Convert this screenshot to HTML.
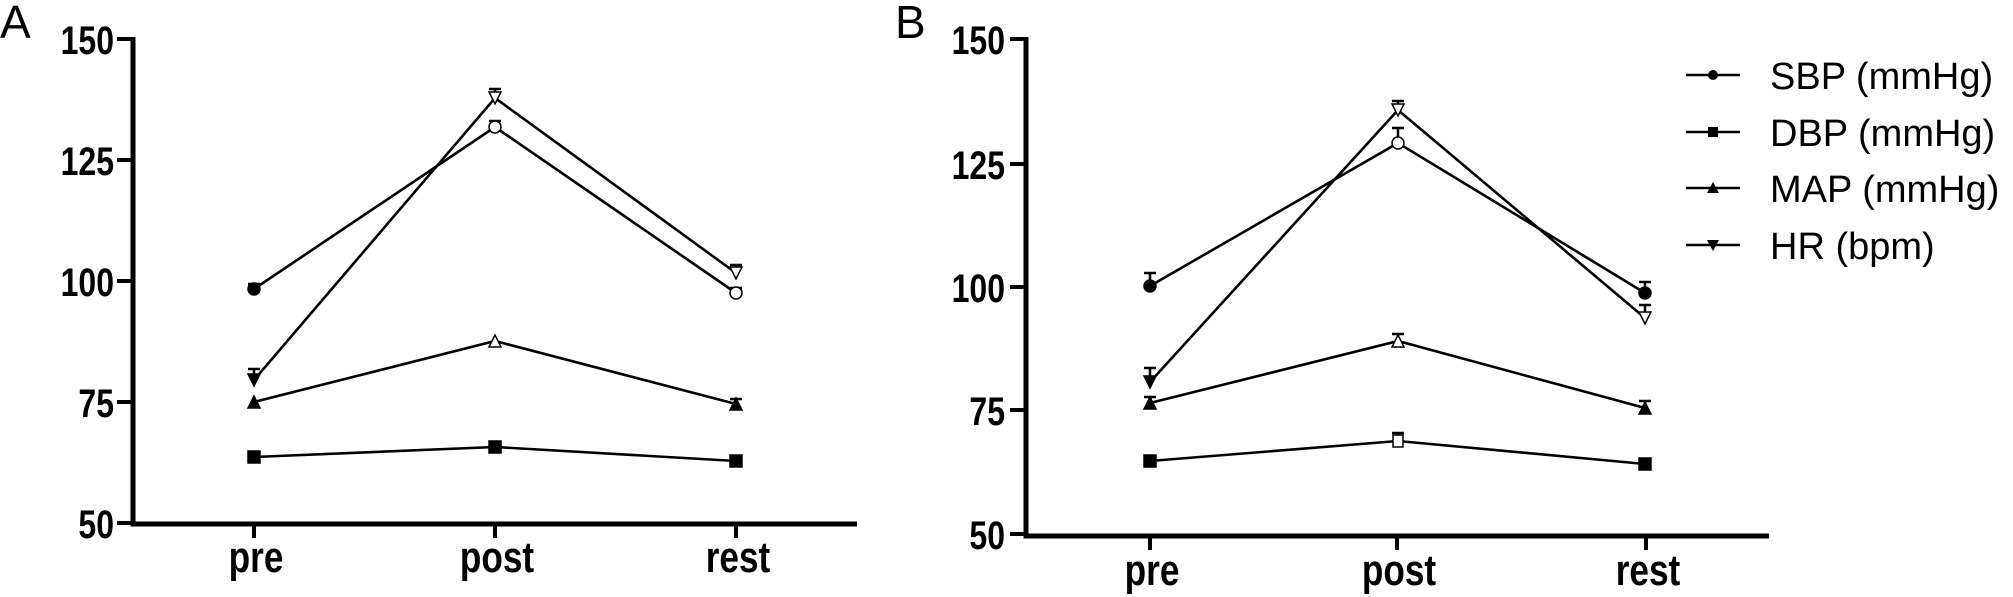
<!DOCTYPE html>
<html><head><meta charset="utf-8"><style>
html,body{margin:0;padding:0;background:#fff;}
svg{display:block;}
.yt{font-family:"Liberation Sans",sans-serif;font-weight:bold;}
.lg{font-family:"Liberation Sans",sans-serif;font-size:38px;}
</style></head><body>
<svg width="2013" height="597" viewBox="0 0 2013 597" xmlns="http://www.w3.org/2000/svg">
<g fill="none" stroke="#000" stroke-linecap="butt">
<path d="M133 37 V524 H857" stroke-width="5"/>
<path d="M117 39 H133 M117 160 H133 M117 281 H133 M117 402 H133 M117 523 H133 M254 522 V538 M495 522 V538 M736 522 V538" stroke-width="4"/>
<path d="M1026 37 V536 H1769" stroke-width="5"/>
<path d="M1010 39 H1026 M1010 164 H1026 M1010 287 H1026 M1010 410 H1026 M1010 534 H1026 M1150 534 V550 M1397 534 V550 M1646 534 V550" stroke-width="4"/>
</g>
<g class="yt" font-size="40" text-anchor="end">
<g transform="translate(114,0) scale(0.8,1)">
<text x="0" y="54">150</text><text x="0" y="175">125</text><text x="0" y="296">100</text><text x="0" y="417">75</text><text x="0" y="538">50</text>
</g>
<g transform="translate(1005,0) scale(0.8,1)">
<text x="0" y="54">150</text><text x="0" y="179">125</text><text x="0" y="302">100</text><text x="0" y="425">75</text><text x="0" y="549">50</text>
</g>
</g>
<g class="yt" font-size="44" text-anchor="middle">
<text transform="translate(256,572) scale(0.8,1)">pre</text>
<text transform="translate(497,572) scale(0.8,1)">post</text>
<text transform="translate(738,572) scale(0.8,1)">rest</text>
<text transform="translate(1152,585) scale(0.8,1)">pre</text>
<text transform="translate(1399,585) scale(0.8,1)">post</text>
<text transform="translate(1648,585) scale(0.8,1)">rest</text>
</g>
<text x="0" y="38" font-family="Liberation Sans,sans-serif" font-size="46">A</text>
<text x="895" y="38" font-family="Liberation Sans,sans-serif" font-size="46">B</text>

<g fill="none" stroke="#000" stroke-width="2.6">
<polyline points="254,289 495,127 736,293"/>
<polyline points="254,380 495,98 736,273"/>
<polyline points="254,402 495,341 736,404"/>
<polyline points="254,457 495,447 736,461"/>
<polyline points="1150,286 1398,143 1645,293"/>
<polyline points="1150,382 1398,110 1645,318"/>
<polyline points="1150,403 1398,341 1645,408"/>
<polyline points="1150,461 1398,441 1645,464"/>
</g>
<g fill="none" stroke="#000" stroke-width="2.5">
<path d="M254 289 V284 M248 284 H260 M495 127 V121 M489 121 H501 M736 293 V288 M730 288 H742"/>
<path d="M254 380 V369 M248 369 H260 M495 98 V89 M489 89 H501 M736 273 V265 M730 265 H742"/>
<path d="M736 404 V399 M730 399 H742"/>
<path d="M1150 286 V273 M1144 273 H1156 M1398 143 V128 M1392 128 H1404 M1645 293 V282 M1639 282 H1651"/>
<path d="M1150 382 V368 M1144 368 H1156 M1398 110 V101 M1392 101 H1404 M1645 318 V305 M1639 305 H1651"/>
<path d="M1150 403 V397 M1144 397 H1156 M1398 341 V334 M1392 334 H1404 M1645 408 V401 M1639 401 H1651"/>
<path d="M1398 441 V433 M1392 433 H1404"/>
</g>
<g stroke="#000" stroke-width="1.5">
<circle cx="254" cy="289" r="6" fill="#000"/><circle cx="495" cy="127" r="6" fill="#fff"/><circle cx="736" cy="293" r="6" fill="#fff"/>
<circle cx="1150" cy="286" r="6" fill="#000"/><circle cx="1398" cy="143" r="6" fill="#fff"/><circle cx="1645" cy="293" r="6" fill="#000"/>
<path d="M248 374 H260 L254 386 Z" fill="#000"/><path d="M489 92 H501 L495 104 Z" fill="#fff"/><path d="M730 267 H742 L736 279 Z" fill="#fff"/>
<path d="M1144 376 H1156 L1150 388 Z" fill="#000"/><path d="M1392 104 H1404 L1398 116 Z" fill="#fff"/><path d="M1639 312 H1651 L1645 324 Z" fill="#fff"/>
<path d="M248 408 H260 L254 396 Z" fill="#000"/><path d="M489 347 H501 L495 335 Z" fill="#fff"/><path d="M730 410 H742 L736 398 Z" fill="#000"/>
<path d="M1144 409 H1156 L1150 397 Z" fill="#000"/><path d="M1392 347 H1404 L1398 335 Z" fill="#fff"/><path d="M1639 414 H1651 L1645 402 Z" fill="#000"/>
<rect x="248" y="451" width="12" height="12" fill="#000"/><rect x="489" y="441" width="12" height="12" fill="#000"/><rect x="730" y="455" width="12" height="12" fill="#000"/>
<rect x="1144" y="455" width="12" height="12" fill="#000"/><rect x="1393" y="435" width="10" height="12" fill="#fff"/><rect x="1639" y="458" width="12" height="12" fill="#000"/>
</g>
<g stroke="#000" stroke-width="2.5">
<path d="M1686 75 H1740 M1686 132 H1740 M1686 188 H1740 M1686 245 H1740"/>
</g>
<circle cx="1713" cy="75" r="5" fill="#000"/>
<rect x="1708" y="127" width="10" height="10" fill="#000"/>
<path d="M1707 193 H1719 L1713 182 Z" fill="#000"/>
<path d="M1707 240 H1719 L1713 251 Z" fill="#000"/>
<g class="lg">
<text x="1770" y="89">SBP (mmHg)</text>
<text x="1770" y="146">DBP (mmHg)</text>
<text x="1770" y="202">MAP (mmHg)</text>
<text x="1770" y="259">HR (bpm)</text>
</g>
</svg>
</body></html>
